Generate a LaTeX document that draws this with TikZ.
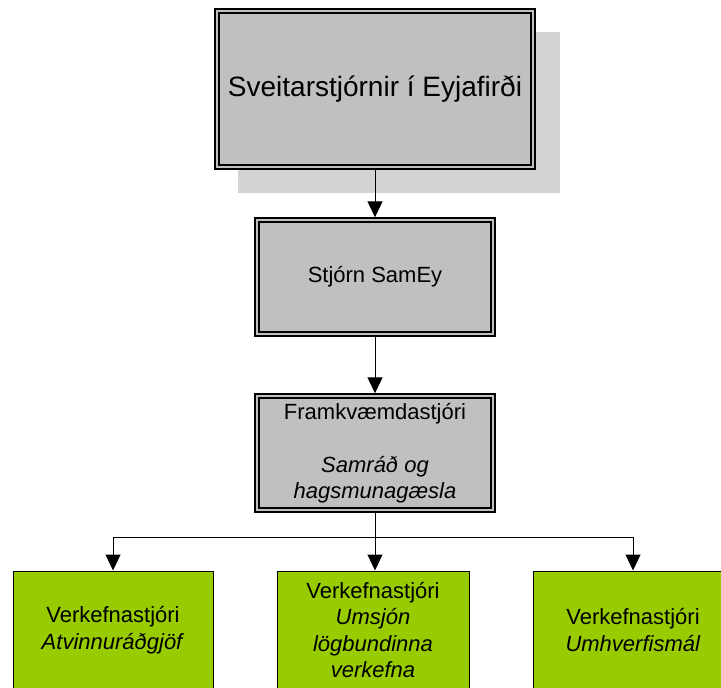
\documentclass[tikz,border=0pt]{standalone}
\usepackage{fontspec}
\setmainfont{Liberation Sans}
\usetikzlibrary{arrows.meta,calc}
\pgfdeclarelayer{bg}
\pgfsetlayers{bg,main}
\definecolor{boxgray}{RGB}{192,192,192}
\definecolor{shadowgray}{RGB}{211,211,211}
\definecolor{lime}{RGB}{153,204,0}
\tikzset{
  dbox/.style={draw=black, double=boxgray, double distance=2.6pt, line width=1.4pt,
    fill=boxgray, inner sep=0pt, outer sep=2.7pt, align=center,
    font=\fontsize{22}{26.5}\selectfont},
  gbox/.style={draw=black, line width=1pt, fill=lime, inner sep=0pt, outer sep=0.5pt,
    align=center, font=\fontsize{22}{26.5}\selectfont},
  conn/.style={draw=black, line width=1pt},
  arr/.style={conn, -{Triangle[length=16pt,width=15pt]}}
}
\begin{document}
\begin{tikzpicture}[x=1pt,y=-1pt]
\useasboundingbox (0,0) rectangle (721,688);
% top box with its shadow
\node[dbox, minimum width=316pt, minimum height=156pt,
      font=\fontsize{28}{32}\selectfont] (top) at (375,89) {Sveitarstjórnir í Eyjafirði};
\begin{pgfonlayer}{bg}
\fill[shadowgray] ($(top.north west)+(24,24)$) rectangle ($(top.south east)+(24,23)$);
\end{pgfonlayer}
\node[dbox, minimum width=236pt, minimum height=114pt] (stj) at (375,277) {Stjórn SamEy};
\node[dbox, minimum width=236pt, minimum height=114pt] (fram) at (375,453)
  {Framkvæmdastjóri\\[26.5pt]\textit{Samráð og}\\\textit{hagsmunagæsla}};
\node[gbox, minimum width=200pt, minimum height=118pt] (b1) at (113,630)
  {Verkefnastjóri\\\textit{Atvinnuráðgjöf}};
\node[gbox, minimum width=192pt, minimum height=118pt] (b2) at (373,630)
  {Verkefnastjóri\\\textit{Umsjón}\\\textit{lögbundinna}\\\textit{verkefna}};
\node[gbox, minimum width=200pt, minimum height=118pt] (b3) at (633,630)
  {Verkefnastjóri\\\textit{Umhverfismál}};
% connectors
\draw[arr] (top.south) -- (stj.north);
\draw[arr] (stj.south) -- (fram.north);
\coordinate (jl) at (113,537);
\coordinate (jr) at (633,537);
\draw[conn] (jl) -- (jr);
\draw[arr] (jl) -- (b1.north);
\draw[arr] (fram.south) -- (fram.south |- b2.north);
\draw[arr] (jr) -- (b3.north);
\end{tikzpicture}
\end{document}
